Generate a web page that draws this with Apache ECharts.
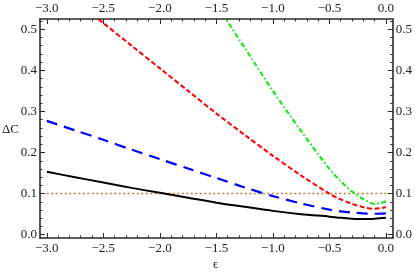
<!DOCTYPE html>
<html>
<head>
<meta charset="utf-8">
<script src="https://cdn.jsdelivr.net/npm/echarts@6/dist/echarts.min.js"></script>
<style>
html,body{margin:0;padding:0;background:#fff;}
#c{width:415px;height:277px;}
</style>
</head>
<body>
<div id="c"></div>
<script>
// ---- data ----
const eps = [-3.0, -2.75, -2.5, -2.25, -2.0, -1.75, -1.5, -1.25, -1.0, -0.75, -0.5, -0.4, -0.3, -0.2, -0.1, 0.0];
const blackVals = [0.153, 0.140, 0.127, 0.114, 0.102, 0.090, 0.078, 0.068, 0.058, 0.050, 0.044, 0.041, 0.039, 0.038, 0.039, 0.041];
const blueVals  = [0.277, 0.254, 0.231, 0.207, 0.184, 0.161, 0.138, 0.115, 0.094, 0.076, 0.061, 0.057, 0.054, 0.052, 0.051, 0.052];
const redVals   = [null, 0.570, 0.515, 0.460, 0.405, 0.350, 0.295, 0.243, 0.192, 0.144, 0.100, 0.086, 0.075, 0.067, 0.063, 0.067];
const greenVals = [null, null, null, null, null, null, 0.561, 0.455, 0.350, 0.252, 0.160, 0.130, 0.105, 0.087, 0.075, 0.081];
const refVals   = [0.1, 0.1, 0.1, 0.1, 0.1, 0.1, 0.1, 0.1, 0.1, 0.1, 0.1, 0.1, 0.1, 0.1, 0.1, 0.1];

const xMajorTicks = [-3.0, -2.5, -2.0, -1.5, -1.0, -0.5, 0.0];
const xMinorTicks = [];
for (let i = 0; i <= 30; i++) xMinorTicks.push(+(-3 + i * 0.1).toFixed(2));
const yMajorTicks = [0.0, 0.1, 0.2, 0.3, 0.4, 0.5];
const yMinorTicks = [];
for (let i = 0; i <= 26; i++) yMinorTicks.push(+(i * 0.02).toFixed(2));

const xLabel = 'ϵ';
const yLabel = 'ΔC';

// ---- chart ----
const pairs = vals => eps.map((x, i) => [x, vals[i]]);
const fmt = v => (v < 0 ? '\u2212' : '') + Math.abs(v).toFixed(1);
const FONT = 'Liberation Serif';
const AX = '#2a2a2a';

function xAx(pos, ticks, len, labels, line) {
  return {
    type: 'value', position: pos, min: -3.06, max: 0.06,
    axisLine: { show: line, onZero: false, lineStyle: { color: AX, width: 1.6 } },
    axisTick: { show: true, inside: true, length: len, customValues: ticks, lineStyle: { color: AX, width: 1 } },
    axisLabel: labels ? { show: true, customValues: ticks, formatter: fmt, fontFamily: FONT, fontSize: 13, color: '#222', margin: 4 } : { show: false },
    splitLine: { show: false }
  };
}
function yAx(pos, ticks, len, labels, line) {
  return {
    type: 'value', position: pos, min: -0.008, max: 0.525,
    axisLine: { show: line, onZero: false, lineStyle: { color: AX, width: 1.6 } },
    axisTick: { show: true, inside: true, length: len, customValues: ticks, lineStyle: { color: AX, width: 1 } },
    axisLabel: labels ? { show: true, customValues: ticks, formatter: fmt, fontFamily: FONT, fontSize: 13, color: '#222', margin: 3 } : { show: false },
    splitLine: { show: false }
  };
}

const chart = echarts.init(document.getElementById('c'), null, { renderer: 'canvas' });
chart.setOption({
  animation: false,
  backgroundColor: '#fff',
  grid: { left: 40, right: 20, top: 19, bottom: 39, containLabel: false },
  xAxis: [
    xAx('bottom', xMajorTicks, 5, true, true),
    xAx('top', xMajorTicks, 5, true, true),
    xAx('bottom', xMinorTicks, 2.5, false, false),
    xAx('top', xMinorTicks, 2.5, false, false)
  ],
  yAxis: [
    yAx('left', yMajorTicks, 5, true, true),
    yAx('right', yMajorTicks, 5, true, true),
    yAx('left', yMinorTicks, 2.5, false, false),
    yAx('right', yMinorTicks, 2.5, false, false)
  ],
  graphic: [
    { type: 'text', left: 2, top: 123, style: { text: yLabel, font: '13px ' + FONT, fill: '#222' } },
    { type: 'text', left: 213, top: 258, style: { text: xLabel, font: '13px ' + FONT, fill: '#222' } }
  ],
  series: [
    { name: 'ref', type: 'line', data: pairs(refVals), showSymbol: false, clip: true,
      lineStyle: { color: '#c8783c', width: 1.5, type: [2, 2.5] } },
    { name: 'black', type: 'line', data: pairs(blackVals), showSymbol: false, smooth: 0.3, clip: true,
      lineStyle: { color: '#000', width: 2 } },
    { name: 'blue', type: 'line', data: pairs(blueVals), showSymbol: false, smooth: 0.3, clip: true,
      lineStyle: { color: '#0000ff', width: 2.2, type: [11, 7] } },
    { name: 'red', type: 'line', data: pairs(redVals), showSymbol: false, smooth: 0.3, clip: true, connectNulls: false,
      lineStyle: { color: '#ff0000', width: 2, type: [5, 2.5] } },
    { name: 'green', type: 'line', data: pairs(greenVals), showSymbol: false, smooth: 0.3, clip: true, connectNulls: false,
      lineStyle: { color: '#00ee00', width: 2, type: [5, 2.5, 1.5, 2.5] } }
  ]
});
</script>
</body>
</html>
